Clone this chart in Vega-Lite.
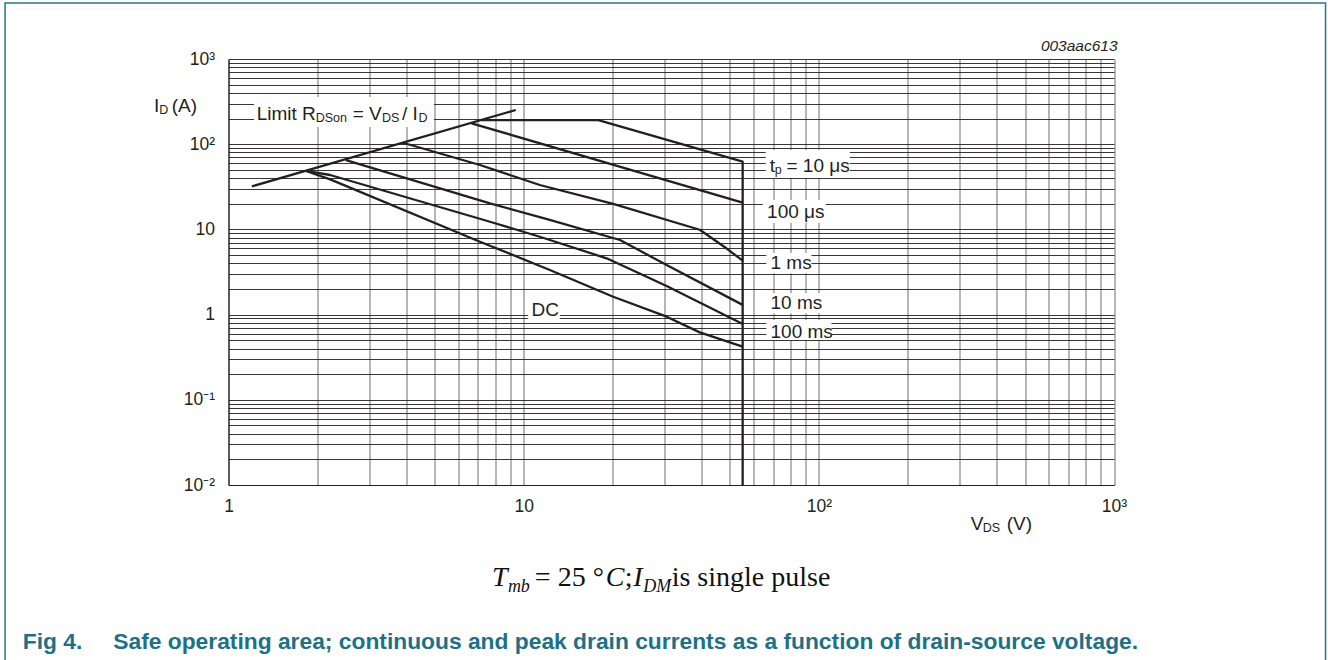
{
  "$schema": "https://vega.github.io/schema/vega-lite/v6.json",
  "width": 885.5,
  "height": 426,
  "autosize": {"type": "none"},
  "padding": {"left": 228.5, "top": 59, "right": 214, "bottom": 175},
  "background": "white",
  "config": {"view": {"stroke": null}, "font": "Liberation Sans"},
  "datasets": {
    "curves": [
      {"series": "limit", "i": 0, "x": 1.2, "y": 32},
      {"series": "limit", "i": 1, "x": 9.4, "y": 252},
      {"series": "10us", "i": 0, "x": 7.18, "y": 192},
      {"series": "10us", "i": 1, "x": 17.9, "y": 192},
      {"series": "10us", "i": 2, "x": 55.2, "y": 62.4},
      {"series": "10us", "i": 3, "x": 55.2, "y": 0.01},
      {"series": "100us", "i": 0, "x": 6.66, "y": 176},
      {"series": "100us", "i": 1, "x": 55.2, "y": 20.6},
      {"series": "1ms", "i": 0, "x": 3.9, "y": 104},
      {"series": "1ms", "i": 1, "x": 7.11, "y": 57},
      {"series": "1ms", "i": 2, "x": 11.34, "y": 33.2},
      {"series": "1ms", "i": 3, "x": 20.1, "y": 19.9},
      {"series": "1ms", "i": 4, "x": 39.5, "y": 9.9},
      {"series": "1ms", "i": 5, "x": 48.6, "y": 6.0},
      {"series": "1ms", "i": 6, "x": 55.2, "y": 4.3},
      {"series": "10ms", "i": 0, "x": 2.5, "y": 65},
      {"series": "10ms", "i": 1, "x": 7.69, "y": 20.2},
      {"series": "10ms", "i": 2, "x": 12, "y": 13.2},
      {"series": "10ms", "i": 3, "x": 21.2, "y": 7.51},
      {"series": "10ms", "i": 4, "x": 30.5, "y": 3.82},
      {"series": "10ms", "i": 5, "x": 55.2, "y": 1.3},
      {"series": "100ms", "i": 0, "x": 1.83, "y": 48.5},
      {"series": "100ms", "i": 1, "x": 2.21, "y": 43.5},
      {"series": "100ms", "i": 2, "x": 7.69, "y": 12.3},
      {"series": "100ms", "i": 3, "x": 11.34, "y": 8.2},
      {"series": "100ms", "i": 4, "x": 19.1, "y": 4.58},
      {"series": "100ms", "i": 5, "x": 30.5, "y": 2.17},
      {"series": "100ms", "i": 6, "x": 55.2, "y": 0.776},
      {"series": "DC", "i": 0, "x": 1.83, "y": 48.5},
      {"series": "DC", "i": 1, "x": 2.21, "y": 38.7},
      {"series": "DC", "i": 2, "x": 7.11, "y": 7.17},
      {"series": "DC", "i": 3, "x": 12.27, "y": 3.34},
      {"series": "DC", "i": 4, "x": 20.1, "y": 1.62},
      {"series": "DC", "i": 5, "x": 30.5, "y": 0.945},
      {"series": "DC", "i": 6, "x": 39.5, "y": 0.619},
      {"series": "DC", "i": 7, "x": 55.2, "y": 0.42}
    ],
    "boxes": [
      {"x": 1.22, "x2": 4.965, "y": 159.2, "y2": 358},
      {"x": 66.1, "x2": 127.3, "y": 40.1, "y2": 85.5},
      {"x": 64.6, "x2": 105.5, "y": 11.9, "y2": 22.1},
      {"x": 66.4, "x2": 94.4, "y": 3.05, "y2": 5.28},
      {"x": 66.4, "x2": 102, "y": 1.036, "y2": 1.778},
      {"x": 66.4, "x2": 110.3, "y": 0.503, "y2": 0.864},
      {"x": 10.36, "x2": 13.26, "y": 0.864, "y2": 1.484}
    ],
    "labels": [
      {"text": "Limit R", "x": 1.246, "y": 192.4, "style": "main"},
      {"text": "DSon", "x": 1.975, "y": 192.4, "style": "sub"},
      {"text": "= V", "x": 2.634, "y": 192.4, "style": "main"},
      {"text": "DS", "x": 3.31, "y": 192.4, "style": "sub"},
      {"text": "/ I", "x": 3.868, "y": 192.4, "style": "main"},
      {"text": "D", "x": 4.399, "y": 192.4, "style": "sub"},
      {"text": "t", "x": 68.2, "y": 47.2, "style": "main"},
      {"text": "p", "x": 70.9, "y": 47.2, "style": "sub"},
      {"text": "= 10 μs", "x": 77.7, "y": 47.2, "style": "main"},
      {"text": "100 μs", "x": 66.8, "y": 13.5, "style": "main"},
      {"text": "1 ms", "x": 68.6, "y": 3.4, "style": "main"},
      {"text": "10 ms", "x": 68.6, "y": 1.154, "style": "main"},
      {"text": "100 ms", "x": 68.6, "y": 0.527, "style": "main"},
      {"text": "DC", "x": 10.64, "y": 0.963, "style": "main"},
      {"text": "I", "x": 0.5595, "y": 238.8, "style": "main"},
      {"text": "D", "x": 0.583, "y": 238.8, "style": "sub"},
      {"text": "(A)", "x": 0.6421, "y": 238.8, "style": "main"},
      {"text": "V", "x": 326.9, "y": 0.002965, "style": "main"},
      {"text": "DS", "x": 358.9, "y": 0.002965, "style": "sub"},
      {"text": "(V)", "x": 432.8, "y": 0.002965, "style": "main"},
      {"text": "003aac613", "x": 1028.5, "y": 1251, "style": "code"},
      {"text": "T", "x": 7.804, "y": 0.0006525, "style": "serif_i"},
      {"text": "mb", "x": 8.841, "y": 0.0006525, "style": "serif_sub"},
      {"text": "= 25 °", "x": 10.912, "y": 0.0006525, "style": "serif"},
      {"text": "C", "x": 18.98, "y": 0.0006525, "style": "serif_i"},
      {"text": ";", "x": 22.02, "y": 0.0006525, "style": "serif"},
      {"text": "I", "x": 23.52, "y": 0.0006525, "style": "serif_i"},
      {"text": "DM", "x": 25.43, "y": 0.0006525, "style": "serif_sub"},
      {"text": "is", "x": 31.76, "y": 0.0006525, "style": "serif"},
      {"text": "single", "x": 38.74, "y": 0.0006525, "style": "serif"},
      {"text": "pulse", "x": 68.99, "y": 0.0006525, "style": "serif"},
      {"text": "Fig 4.", "x": 0.201, "y": 0.0001189, "style": "caption"},
      {"text": "Safe operating area; continuous and peak drain currents as a function of drain-source voltage.", "x": 0.407, "y": 0.0001189, "style": "caption"}
    ]
  },
  "layer": [
    {
      "data": {"name": "boxes"},
      "mark": {"type": "rect", "fill": "white", "strokeWidth": 0},
      "encoding": {
        "x": {
          "field": "x", "type": "quantitative",
          "scale": {"type": "log", "domain": [1, 1000], "nice": false},
          "axis": {
            "values": [1,2,3,4,5,6,7,8,9,10,20,30,40,50,60,70,80,90,100,200,300,400,500,600,700,800,900,1000],
            "labelExpr": "datum.value == 1 ? '1' : datum.value == 10 ? '10' : datum.value == 100 ? '10²' : datum.value == 1000 ? '10³' : ''",
            "grid": true, "gridColor": "#858585", "gridWidth": 1.2, "gridOpacity": 1,
            "ticks": false, "domainColor": "#231f20", "domainWidth": 1.2,
            "labelFont": "Liberation Sans", "labelFontSize": 17.5, "labelColor": "#231f20",
            "labelPadding": 12, "labelFlush": false, "labelOverlap": false, "title": null
          }
        },
        "x2": {"field": "x2"},
        "y": {
          "field": "y", "type": "quantitative",
          "scale": {"type": "log", "domain": [0.01, 1000], "nice": false},
          "axis": {
            "values": [0.01,0.02,0.03,0.04,0.05,0.06,0.07,0.08,0.09,0.1,0.2,0.3,0.4,0.5,0.6,0.7,0.8,0.9,1,2,3,4,5,6,7,8,9,10,20,30,40,50,60,70,80,90,100,200,300,400,500,600,700,800,900,1000],
            "labelExpr": "datum.value == 1000 ? '10³' : datum.value == 100 ? '10²' : datum.value == 10 ? '10' : datum.value == 1 ? '1' : datum.value == 0.1 ? '10⁻¹' : datum.value == 0.01 ? '10⁻²' : ''",
            "grid": true, "gridColor": "#231f20", "gridWidth": 0.9, "gridOpacity": 1,
            "ticks": false, "domainColor": "#231f20", "domainWidth": 1.2,
            "labelFont": "Liberation Sans", "labelFontSize": 17.5, "labelColor": "#231f20",
            "labelPadding": 14, "labelBaseline": "middle", "labelFlush": false, "labelOverlap": false, "title": null
          }
        },
        "y2": {"field": "y2"}
      }
    },
    {
      "data": {"name": "curves"},
      "mark": {"type": "line", "color": "#231f20", "strokeWidth": 2.3, "strokeJoin": "round"},
      "encoding": {
        "x": {"field": "x", "type": "quantitative", "scale": {"type": "log", "domain": [1, 1000], "nice": false}, "title": null},
        "y": {"field": "y", "type": "quantitative", "scale": {"type": "log", "domain": [0.01, 1000], "nice": false}, "title": null},
        "detail": {"field": "series"},
        "order": {"field": "i", "type": "quantitative"}
      }
    },
    {
      "data": {"values": [{}]},
      "mark": {"type": "rect", "filled": false, "fill": null, "stroke": "#2b7487", "strokeWidth": 1.5},
      "encoding": {
        "x": {"datum": 0.175, "type": "quantitative"},
        "x2": {"datum": 5208},
        "y": {"datum": 4540, "type": "quantitative"},
        "y2": {"datum": 0.00003}
      }
    },
    {
      "data": {"name": "labels"},
      "transform": [{"filter": "datum.style == 'main'"}],
      "mark": {"type": "text", "font": "Liberation Sans", "fontSize": 19, "align": "left", "baseline": "alphabetic", "color": "#231f20"},
      "encoding": {
        "x": {"field": "x", "type": "quantitative", "title": null},
        "y": {"field": "y", "type": "quantitative", "title": null},
        "text": {"field": "text"}
      }
    },
    {
      "data": {"name": "labels"},
      "transform": [{"filter": "datum.style == 'sub'"}],
      "mark": {"type": "text", "font": "Liberation Sans", "fontSize": 12.5, "align": "left", "baseline": "alphabetic", "dy": 2, "color": "#231f20"},
      "encoding": {
        "x": {"field": "x", "type": "quantitative", "title": null},
        "y": {"field": "y", "type": "quantitative", "title": null},
        "text": {"field": "text"}
      }
    },
    {
      "data": {"name": "labels"},
      "transform": [{"filter": "datum.style == 'code'"}],
      "mark": {"type": "text", "font": "Liberation Sans", "fontSize": 15.5, "fontStyle": "italic", "align": "right", "baseline": "alphabetic", "color": "#231f20"},
      "encoding": {
        "x": {"field": "x", "type": "quantitative", "title": null},
        "y": {"field": "y", "type": "quantitative", "title": null},
        "text": {"field": "text"}
      }
    },
    {
      "data": {"name": "labels"},
      "transform": [{"filter": "datum.style == 'serif'"}],
      "mark": {"type": "text", "font": "Liberation Serif", "fontSize": 28, "align": "left", "baseline": "alphabetic", "color": "#111111"},
      "encoding": {
        "x": {"field": "x", "type": "quantitative", "title": null},
        "y": {"field": "y", "type": "quantitative", "title": null},
        "text": {"field": "text"}
      }
    },
    {
      "data": {"name": "labels"},
      "transform": [{"filter": "datum.style == 'serif_i'"}],
      "mark": {"type": "text", "font": "Liberation Serif", "fontSize": 28, "fontStyle": "italic", "align": "left", "baseline": "alphabetic", "color": "#111111"},
      "encoding": {
        "x": {"field": "x", "type": "quantitative", "title": null},
        "y": {"field": "y", "type": "quantitative", "title": null},
        "text": {"field": "text"}
      }
    },
    {
      "data": {"name": "labels"},
      "transform": [{"filter": "datum.style == 'serif_sub'"}],
      "mark": {"type": "text", "font": "Liberation Serif", "fontSize": 18, "fontStyle": "italic", "align": "left", "baseline": "alphabetic", "dy": 6, "color": "#111111"},
      "encoding": {
        "x": {"field": "x", "type": "quantitative", "title": null},
        "y": {"field": "y", "type": "quantitative", "title": null},
        "text": {"field": "text"}
      }
    },
    {
      "data": {"name": "labels"},
      "transform": [{"filter": "datum.style == 'caption'"}],
      "mark": {"type": "text", "font": "Liberation Sans", "fontSize": 22.8, "fontWeight": "bold", "align": "left", "baseline": "alphabetic", "color": "#1d7186"},
      "encoding": {
        "x": {"field": "x", "type": "quantitative", "title": null},
        "y": {"field": "y", "type": "quantitative", "title": null},
        "text": {"field": "text"}
      }
    }
  ]
}
